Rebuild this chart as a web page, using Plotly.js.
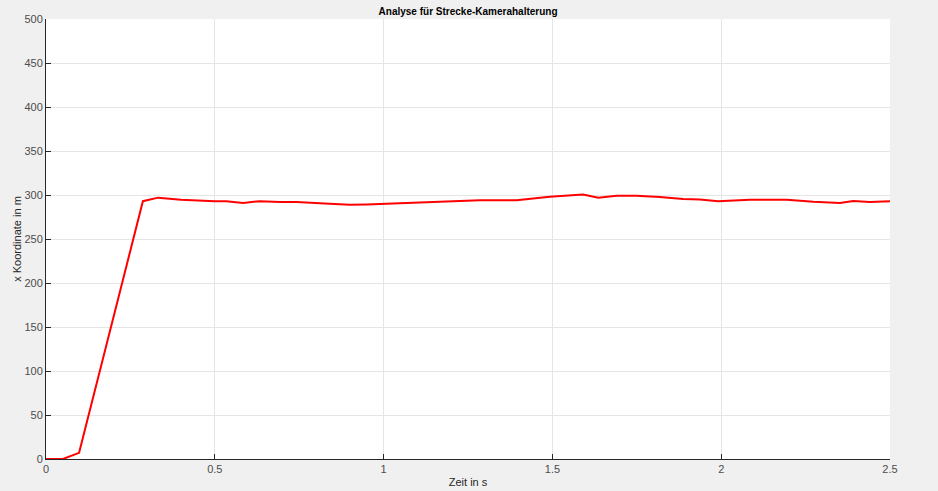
<!DOCTYPE html>
<html>
<head>
<meta charset="utf-8">
<script src="https://cdn.plot.ly/plotly-3.0.1.min.js"></script>
<style>html,body{margin:0;padding:0;background:#f0f0f0;}#chart{width:938px;height:491px;}</style>
</head>
<body>
<div id="chart"></div>
<script>
const zeit = [0, 0.05, 0.098, 0.287, 0.332, 0.40, 0.50, 0.534, 0.584, 0.633, 0.693, 0.742, 0.84, 0.90, 0.949, 0.999, 1.078, 1.186, 1.285, 1.394, 1.492, 1.591, 1.636, 1.69, 1.749, 1.818, 1.887, 1.937, 1.991, 2.085, 2.194, 2.273, 2.352, 2.391, 2.44, 2.5];
const xKoordinate = [0, 0, 7, 293, 297, 294.5, 292.8, 292.8, 291, 293, 292, 292, 290, 289, 289.3, 290, 290.5, 292, 294, 294, 298, 300.5, 297, 299.2, 299.2, 297.7, 295.4, 295, 292.8, 294.7, 294.7, 292.4, 291, 293.2, 292, 293];

const trace = {
  x: zeit, y: xKoordinate, type: 'scatter', mode: 'lines',
  line: {color: '#ff0000', width: 2}, hoverinfo: 'none'
};
const fam = 'Liberation Sans, Arial, sans-serif';
const tickFont = {family: fam, size: 11, color: '#4d4d4d'};
const layout = {
  width: 938, height: 491,
  paper_bgcolor: '#f0f0f0', plot_bgcolor: '#ffffff',
  margin: {l: 46, r: 48, t: 19, b: 32},
  showlegend: false,
  title: {text: '<b>Analyse für Strecke-Kamerahalterung</b>', x: 0.499, xanchor: 'center', y: 0.983, yanchor: 'top',
    font: {family: fam, size: 10, color: '#000000'}},
  xaxis: {
    range: [0, 2.5], tickvals: [0, 0.5, 1, 1.5, 2, 2.5], ticktext: ['0', '0.5', '1', '1.5', '2', '2.5'],
    showgrid: true, gridcolor: '#e5e5e5', gridwidth: 1, zeroline: false,
    showline: true, linecolor: '#262626', linewidth: 1, ticks: 'inside', ticklen: 5, tickcolor: '#262626',
    tickfont: tickFont,
    title: {text: 'Zeit in s', font: {family: fam, size: 11, color: '#262626'}, standoff: 4}
  },
  yaxis: {
    range: [0, 500], tickvals: [0, 50, 100, 150, 200, 250, 300, 350, 400, 450, 500],
    showgrid: true, gridcolor: '#e5e5e5', gridwidth: 1, zeroline: false,
    showline: true, linecolor: '#262626', linewidth: 1, ticks: 'inside', ticklen: 5, tickcolor: '#262626',
    tickfont: tickFont,
    title: {text: 'x Koordinate in m', font: {family: fam, size: 11, color: '#262626'}, standoff: 0}
  }
};
Plotly.newPlot('chart', [trace], layout, {displayModeBar: false, staticPlot: true});
</script>
</body>
</html>
